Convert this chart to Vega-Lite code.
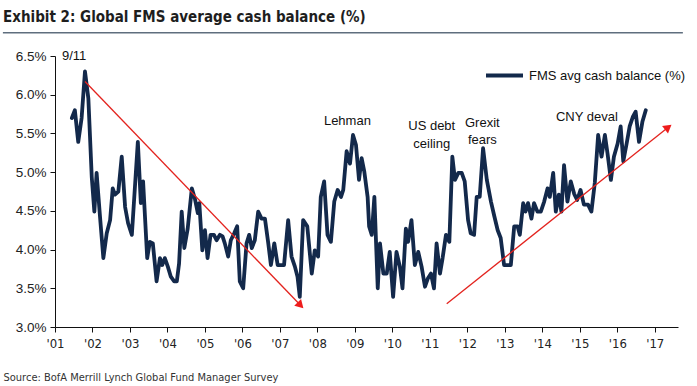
{
  "$schema": "https://vega.github.io/schema/vega-lite/v6.json",
  "width": 623,
  "height": 271,
  "autosize": {"type": "none"},
  "padding": {"left": 55, "top": 56, "right": 19, "bottom": 59},
  "background": "white",
  "view": {"stroke": null},
  "config": {"font": "Liberation Sans", "axis": {"labelOverlap": false, "labelFlush": false}},
  "title": {
    "text": "Exhibit 2: Global FMS average cash balance (%)",
    "anchor": "start",
    "frame": "group",
    "dx": -52,
    "offset": 7,
    "font": "Liberation Sans Narrow, DejaVu Sans Condensed",
    "fontWeight": "bold",
    "fontSize": 15,
    "color": "#1e1e1e"
  },
  "datasets": {
    "fms": [
      {"t":2001.45,"v":5.70},{"t":2001.53,"v":5.80},{"t":2001.62,"v":5.39},{"t":2001.71,"v":5.70},{"t":2001.80,"v":6.30},{"t":2001.89,"v":5.95},{"t":2001.98,"v":4.94},{"t":2002.05,"v":4.49},{"t":2002.11,"v":4.99},{"t":2002.20,"v":4.43},{"t":2002.29,"v":3.89},{"t":2002.38,"v":4.21},{"t":2002.47,"v":4.38},{"t":2002.54,"v":4.79},{"t":2002.60,"v":4.71},{"t":2002.69,"v":4.75},{"t":2002.78,"v":5.20},{"t":2002.87,"v":4.55},{"t":2002.95,"v":4.34},{"t":2003.05,"v":4.19},{"t":2003.21,"v":5.39},{"t":2003.29,"v":4.60},{"t":2003.35,"v":4.88},{"t":2003.46,"v":3.89},{"t":2003.53,"v":4.10},{"t":2003.61,"v":4.08},{"t":2003.71,"v":3.59},{"t":2003.80,"v":3.89},{"t":2003.86,"v":3.80},{"t":2003.93,"v":3.89},{"t":2004.01,"v":3.78},{"t":2004.09,"v":3.65},{"t":2004.18,"v":3.59},{"t":2004.25,"v":3.59},{"t":2004.31,"v":3.82},{"t":2004.38,"v":4.49},{"t":2004.45,"v":4.02},{"t":2004.54,"v":4.27},{"t":2004.65,"v":4.79},{"t":2004.73,"v":4.66},{"t":2004.81,"v":4.47},{"t":2004.85,"v":4.60},{"t":2004.93,"v":3.99},{"t":2005.00,"v":4.25},{"t":2005.07,"v":3.89},{"t":2005.15,"v":4.19},{"t":2005.24,"v":4.19},{"t":2005.31,"v":4.12},{"t":2005.40,"v":4.19},{"t":2005.47,"v":4.17},{"t":2005.53,"v":4.08},{"t":2005.62,"v":3.91},{"t":2005.69,"v":4.12},{"t":2005.78,"v":4.21},{"t":2005.86,"v":4.30},{"t":2005.93,"v":3.59},{"t":2006.02,"v":3.50},{"t":2006.11,"v":4.08},{"t":2006.18,"v":4.19},{"t":2006.25,"v":4.02},{"t":2006.33,"v":4.12},{"t":2006.42,"v":4.49},{"t":2006.51,"v":4.40},{"t":2006.60,"v":4.40},{"t":2006.69,"v":4.08},{"t":2006.76,"v":3.80},{"t":2006.85,"v":4.08},{"t":2006.94,"v":3.80},{"t":2007.02,"v":3.80},{"t":2007.11,"v":3.80},{"t":2007.22,"v":4.38},{"t":2007.31,"v":3.91},{"t":2007.40,"v":3.78},{"t":2007.47,"v":3.65},{"t":2007.53,"v":3.39},{"t":2007.62,"v":4.38},{"t":2007.73,"v":4.30},{"t":2007.85,"v":3.69},{"t":2007.93,"v":3.99},{"t":2008.02,"v":3.91},{"t":2008.09,"v":4.68},{"t":2008.18,"v":4.88},{"t":2008.27,"v":4.19},{"t":2008.36,"v":4.10},{"t":2008.45,"v":4.62},{"t":2008.54,"v":4.77},{"t":2008.63,"v":4.68},{"t":2008.69,"v":4.77},{"t":2008.78,"v":5.27},{"t":2008.87,"v":5.11},{"t":2008.95,"v":5.48},{"t":2009.03,"v":5.35},{"t":2009.11,"v":4.90},{"t":2009.18,"v":5.18},{"t":2009.25,"v":5.01},{"t":2009.34,"v":4.68},{"t":2009.38,"v":4.30},{"t":2009.45,"v":4.19},{"t":2009.52,"v":4.68},{"t":2009.61,"v":3.50},{"t":2009.67,"v":4.08},{"t":2009.76,"v":3.69},{"t":2009.85,"v":3.69},{"t":2009.93,"v":3.97},{"t":2010.02,"v":3.39},{"t":2010.11,"v":3.97},{"t":2010.20,"v":3.78},{"t":2010.27,"v":3.50},{"t":2010.36,"v":4.27},{"t":2010.42,"v":4.10},{"t":2010.51,"v":4.38},{"t":2010.60,"v":3.80},{"t":2010.69,"v":3.97},{"t":2010.78,"v":3.78},{"t":2010.87,"v":3.52},{"t":2010.95,"v":3.63},{"t":2011.03,"v":3.69},{"t":2011.11,"v":3.50},{"t":2011.18,"v":4.08},{"t":2011.27,"v":3.69},{"t":2011.34,"v":3.89},{"t":2011.43,"v":4.19},{"t":2011.52,"v":4.10},{"t":2011.60,"v":5.20},{"t":2011.67,"v":4.90},{"t":2011.76,"v":4.99},{"t":2011.85,"v":4.99},{"t":2011.93,"v":4.88},{"t":2012.02,"v":4.38},{"t":2012.09,"v":4.21},{"t":2012.18,"v":4.19},{"t":2012.25,"v":4.68},{"t":2012.33,"v":4.68},{"t":2012.42,"v":5.31},{"t":2012.52,"v":4.90},{"t":2012.63,"v":4.62},{"t":2012.72,"v":4.43},{"t":2012.81,"v":4.25},{"t":2012.89,"v":4.15},{"t":2012.98,"v":3.80},{"t":2013.07,"v":3.80},{"t":2013.16,"v":3.80},{"t":2013.25,"v":4.30},{"t":2013.34,"v":4.30},{"t":2013.40,"v":4.19},{"t":2013.49,"v":4.60},{"t":2013.55,"v":4.49},{"t":2013.62,"v":4.60},{"t":2013.71,"v":4.40},{"t":2013.78,"v":4.60},{"t":2013.87,"v":4.49},{"t":2013.96,"v":4.49},{"t":2014.05,"v":4.62},{"t":2014.14,"v":4.79},{"t":2014.20,"v":4.68},{"t":2014.29,"v":4.99},{"t":2014.36,"v":4.49},{"t":2014.44,"v":4.71},{"t":2014.51,"v":4.49},{"t":2014.58,"v":5.09},{"t":2014.67,"v":4.62},{"t":2014.76,"v":4.88},{"t":2014.85,"v":4.72},{"t":2014.93,"v":4.64},{"t":2015.02,"v":4.77},{"t":2015.11,"v":4.58},{"t":2015.22,"v":4.58},{"t":2015.31,"v":4.49},{"t":2015.40,"v":4.86},{"t":2015.49,"v":5.48},{"t":2015.58,"v":5.20},{"t":2015.67,"v":5.48},{"t":2015.74,"v":5.24},{"t":2015.83,"v":4.90},{"t":2015.91,"v":5.20},{"t":2016.01,"v":5.37},{"t":2016.09,"v":5.59},{"t":2016.16,"v":5.14},{"t":2016.25,"v":5.37},{"t":2016.33,"v":5.59},{"t":2016.42,"v":5.72},{"t":2016.49,"v":5.78},{"t":2016.58,"v":5.39},{"t":2016.67,"v":5.65},{"t":2016.76,"v":5.80}
    ],
    "arrows": [
      {"t":2001.80,"v":6.17,"t2":2007.55,"v2":3.28},
      {"t":2011.45,"v":3.30,"t2":2017.36,"v2":5.58}
    ],
    "heads": [
      {"t":2007.55,"v":3.28,"dir":"down"},
      {"t":2017.36,"v":5.58,"dir":"up"}
    ],
    "notes": [
      {"label":"9/11","t":2001.51,"v":6.50},
      {"label":"Lehman","t":2008.80,"v":5.66},
      {"label":"US debt","t":2011.05,"v":5.59},
      {"label":"ceiling","t":2011.05,"v":5.36},
      {"label":"Grexit","t":2012.40,"v":5.64},
      {"label":"fears","t":2012.40,"v":5.42},
      {"label":"CNY deval","t":2015.19,"v":5.71}
    ],
    "header": [
      {"t":1999.61,"t2":2017.75,"v":6.8}
    ]
  },
  "encoding": {
    "x": {
      "field": "t", "type": "quantitative",
      "scale": {"domain": [2001, 2017.62], "nice": false, "zero": false},
      "axis": {
        "values": [2001,2002,2003,2004,2005,2006,2007,2008,2009,2010,2011,2012,2013,2014,2015,2016,2017],
        "labelExpr": "\"'\" + substring(toString(datum.value), 2, 4)",
        "grid": false,
        "domainColor": "#111111",
        "domainWidth": 1,
        "tickColor": "#111111",
        "tickSize": 5,
        "labelFont": "Liberation Sans Narrow, DejaVu Sans Condensed",
        "labelFontSize": 13,
        "labelColor": "#222222",
        "labelPadding": 5,
        "labelOverlap": false,
        "title": "Source: BofA Merrill Lynch Global Fund Manager Survey",
        "titleFont": "Liberation Sans Narrow, DejaVu Sans Condensed",
        "titleFontWeight": "normal",
        "titleFontSize": 11,
        "titleColor": "#333333",
        "titleAnchor": "start",
        "titleAlign": "left",
        "titleBaseline": "middle",
        "titleX": -52,
        "titleY": 50
      }
    },
    "y": {
      "field": "v", "type": "quantitative",
      "scale": {"domain": [3, 6.5], "nice": false, "zero": false},
      "axis": {
        "values": [3, 3.5, 4, 4.5, 5, 5.5, 6, 6.5],
        "labelExpr": "format(datum.value, '.1f') + '%'",
        "grid": false,
        "domainColor": "#111111",
        "domainWidth": 1,
        "tickColor": "#111111",
        "tickSize": 5,
        "labelFont": "Liberation Sans",
        "labelFontSize": 13.5,
        "labelColor": "#222222",
        "labelPadding": 4,
        "labelOverlap": false,
        "title": null
      }
    }
  },
  "layer": [
    {
      "data": {"name": "fms"},
      "transform": [{"calculate": "'FMS avg cash balance (%)'", "as": "series"}],
      "mark": {"type": "line", "strokeWidth": 3.8, "strokeJoin": "round", "strokeCap": "round"},
      "encoding": {
        "color": {
          "field": "series", "type": "nominal",
          "scale": {"range": ["#13294b"]},
          "legend": {
            "title": null,
            "orient": "none",
            "legendX": 429,
            "legendY": -1,
            "symbolType": "stroke",
            "symbolSize": 1369,
            "symbolStrokeWidth": 4,
            "labelFont": "Liberation Sans",
            "labelFontSize": 13,
            "labelColor": "#111111",
            "labelOffset": 4
          }
        }
      }
    },
    {
      "data": {"name": "arrows"},
      "mark": {"type": "rule", "color": "#e3231e", "strokeWidth": 1.3},
      "encoding": {
        "x2": {"field": "t2"},
        "y2": {"field": "v2"}
      }
    },
    {
      "data": {"name": "heads"},
      "mark": {"type": "point", "shape": "triangle-right", "filled": true, "color": "#ee1c1c", "size": 90, "opacity": 1},
      "encoding": {
        "angle": {"condition": {"test": "datum.dir == 'down'", "value": 46}, "value": 321.5}
      }
    },
    {
      "data": {"name": "notes"},
      "mark": {"type": "text", "font": "Liberation Sans", "fontSize": 13, "color": "#111111", "align": "center", "baseline": "middle"},
      "encoding": {
        "text": {"field": "label"}
      }
    },
    {
      "data": {"name": "header"},
      "mark": {"type": "rule", "color": "#5f6e7e", "strokeWidth": 1.5},
      "encoding": {
        "x2": {"field": "t2"}
      }
    }
  ]
}
